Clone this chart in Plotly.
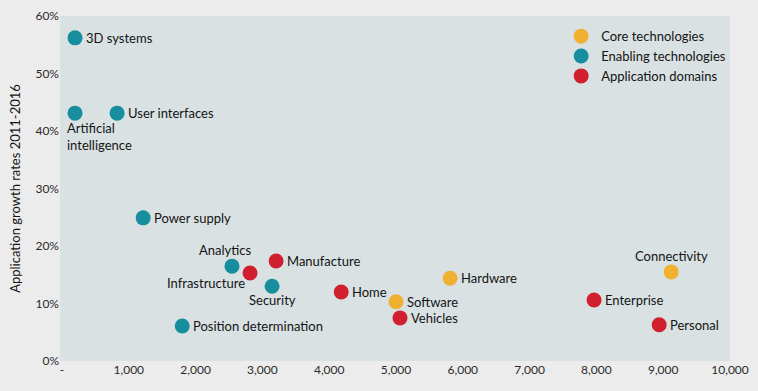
import plotly.graph_objects as go

# ---- data ----
core_names = ["Software", "Hardware", "Connectivity"]
core_x = [5000, 5810, 9120]
core_y = [10.3, 14.4, 15.5]

enab_names = ["3D systems", "Artificial<br>intelligence", "User interfaces", "Power supply",
              "Analytics", "Security", "Position determination"]
enab_x = [195, 195, 825, 1215, 2545, 3145, 1800]
enab_y = [56.2, 43.1, 43.1, 24.9, 16.5, 13.0, 6.1]

app_names = ["Infrastructure", "Manufacture", "Home", "Vehicles", "Enterprise", "Personal"]
app_x = [2815, 3205, 4180, 5060, 7965, 8940]
app_y = [15.3, 17.4, 12.0, 7.5, 10.6, 6.3]

x_tickvals = [0, 1000, 2000, 3000, 4000, 5000, 6000, 7000, 8000, 9000, 10000]
x_ticktext = ["-", "1,000", "2,000", "3,000", "4,000", "5,000", "6,000", "7,000", "8,000", "9,000", "10,000"]
y_tickvals = [0, 10, 20, 30, 40, 50, 60]
y_ticktext = ["0%", "10%", "20%", "30%", "40%", "50%", "60%"]

# ---- style ----
COL_CORE = "#f0b032"
COL_ENAB = "#168e9d"
COL_APP = "#d0202f"
FONT = "Lato"
TXT = "#141414"

# label placement: name -> (xanchor, yanchor, xshift, yshift, align)
placement = {
    "Software": ("left", "middle", 9, 0, "left"),
    "Hardware": ("left", "middle", 9, 0, "left"),
    "Connectivity": ("center", "bottom", 0, 6, "center"),
    "3D systems": ("left", "middle", 9, 0, "left"),
    "Artificial<br>intelligence": ("left", "top", -10, -5, "left"),
    "User interfaces": ("left", "middle", 9, 0, "left"),
    "Power supply": ("left", "middle", 9, 0, "left"),
    "Analytics": ("center", "bottom", -7, 6, "center"),
    "Security": ("center", "top", 0, -4, "center"),
    "Position determination": ("left", "middle", 9, 0, "left"),
    "Infrastructure": ("right", "middle", -3, -10, "right"),
    "Manufacture": ("left", "middle", 9, 0, "left"),
    "Home": ("left", "middle", 9, 0, "left"),
    "Vehicles": ("left", "middle", 9, 0, "left"),
    "Enterprise": ("left", "middle", 9, 0, "left"),
    "Personal": ("left", "middle", 9, 0, "left"),
}

fig = go.Figure()
groups = [
    ("Core technologies", core_names, core_x, core_y, COL_CORE),
    ("Enabling technologies", enab_names, enab_x, enab_y, COL_ENAB),
    ("Application domains", app_names, app_x, app_y, COL_APP),
]
annotations = []
for gname, names, xs, ys, col in groups:
    fig.add_trace(go.Scatter(
        x=xs, y=ys, mode="markers", name=gname,
        marker=dict(size=15, color=col, line=dict(width=0)),
        hoverinfo="skip",
    ))
    for n, x, y in zip(names, xs, ys):
        xa, ya, xs_, ys_, al = placement[n]
        annotations.append(dict(
            x=x, y=y, xref="x", yref="y", text=n, showarrow=False,
            xanchor=xa, yanchor=ya, xshift=xs_, yshift=ys_, align=al,
            font=dict(family=FONT, size=13, color=TXT),
        ))

fig.update_layout(
    width=758, height=391,
    margin=dict(l=60, r=28, t=16, b=30, autoexpand=False),
    paper_bgcolor="#ececec",
    plot_bgcolor="#d9e1e2",
    font=dict(family=FONT, size=12, color=TXT),
    annotations=annotations,
    showlegend=True,
    legend=dict(
        x=0.748, y=0.985, xanchor="left", yanchor="top",
        bgcolor="rgba(0,0,0,0)", font=dict(family=FONT, size=13, color=TXT),
        itemwidth=30, tracegroupgap=0,
    ),
    xaxis=dict(
        range=[-30, 10000], tickvals=x_tickvals, ticktext=x_ticktext,
        showgrid=False, zeroline=False, showline=False, ticks="",
        automargin=False,
        tickfont=dict(family=FONT, size=12, color="#2a2a2a"),
    ),
    yaxis=dict(
        range=[0, 60], tickvals=y_tickvals, ticktext=y_ticktext,
        showgrid=False, zeroline=False, showline=False, ticks="",
        automargin=False,
        tickfont=dict(family=FONT, size=12, color="#2a2a2a"),
        title=dict(text="Application growth rates 2011-2016",
                   font=dict(family=FONT, size=13, color=TXT), standoff=11),
    ),
)

fig.write_html(
    "out.html",
    config={"displayModeBar": False},
    post_script="document.body.style.margin='0';document.body.style.background='#ececec';",
)
